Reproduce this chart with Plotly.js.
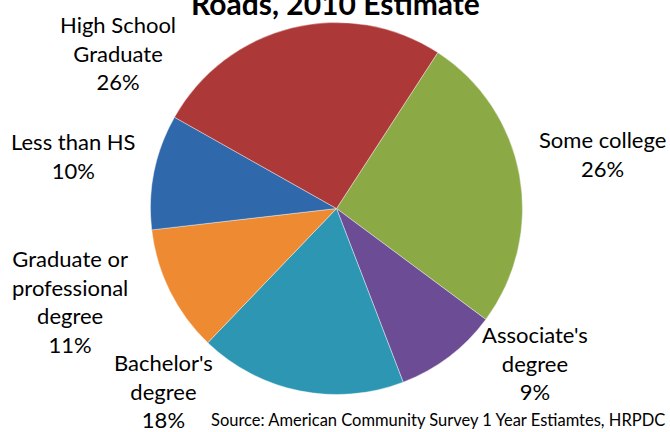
<!DOCTYPE html>
<html>
<head>
<meta charset="utf-8">
<script src="https://cdn.plot.ly/plotly-3.0.1.min.js"></script>
<style>
html,body{margin:0;padding:0;background:#fff;}
#chart{width:670px;height:432px;}
</style>
</head>
<body>
<div id="chart"></div>
<script>
// Data (percent of population 25+, 2010 estimate)
var categories = ["Some college", "Associate's<br>degree", "Bachelor's<br>degree", "Graduate or<br>professional<br>degree", "Less than HS", "High School<br>Graduate"];
var values = [26, 9, 18, 11, 10, 26];
var colors = ["#8BAA45", "#6C4C94", "#2C96B3", "#EE8A31", "#3068AC", "#AC3937"];
var titleText = "Roads, 2010 Estimate";
var sourceText = "Source: American Community Survey 1 Year Estiamtes, HRPDC";

// label block centres in pixels (layout only)
var labelPos = [[602, 154], [535, 363], [163, 391], [70, 301], [73.5, 155.5], [118, 52.5]];

var W = 670, H = 432;
var cx = 336.5, cy = 208.5, R = 186;

var trace = {
  type: 'pie',
  labels: categories,
  values: values,
  sort: false,
  direction: 'clockwise',
  rotation: 33,
  textinfo: 'none',
  hoverinfo: 'none',
  showlegend: false,
  marker: {colors: colors, line: {color: 'rgba(255,255,255,0.4)', width: 1}},
  domain: {x: [(cx - R) / W, (cx + R) / W], y: [1 - (cy + R) / H, 1 - (cy - R) / H]}
};

var annotations = categories.map(function (c, i) {
  return {
    text: c + '<br>' + values[i] + '%',
    xref: 'paper', yref: 'paper',
    x: labelPos[i][0] / W, y: 1 - labelPos[i][1] / H,
    xanchor: 'center', yanchor: 'middle', align: 'center',
    showarrow: false,
    font: {family: 'Lato, sans-serif', size: 22, color: '#000'}
  };
});
annotations.push({
  text: '<b>' + titleText + '</b>',
  xref: 'paper', yref: 'paper', x: 335.5 / W, y: 1 - 23 / H,
  xanchor: 'center', yanchor: 'bottom', showarrow: false,
  font: {family: 'Lato, sans-serif', size: 30, color: '#000'}
});
annotations.push({
  text: sourceText,
  xref: 'paper', yref: 'paper', x: 209 / W, y: 1 - 420 / H,
  xanchor: 'left', yanchor: 'middle', showarrow: false,
  font: {family: 'Lato, sans-serif', size: 16.5, color: '#000'}
});

var layout = {
  width: W, height: H,
  margin: {l: 0, r: 0, t: 0, b: 0},
  paper_bgcolor: '#fff',
  annotations: annotations
};

Plotly.newPlot('chart', [trace], layout, {displayModeBar: false, staticPlot: true});
</script>
</body>
</html>
